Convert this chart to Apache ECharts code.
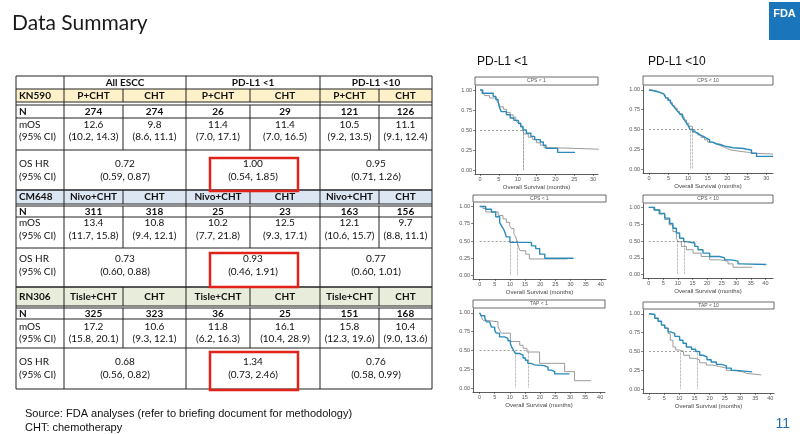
<!DOCTYPE html>
<html>
<head>
<meta charset="utf-8">
<script src="https://cdn.jsdelivr.net/npm/echarts@6/dist/echarts.min.js"></script>
<style>
  html, body { margin: 0; padding: 0; background: #fff; }
  #chart { width: 800px; height: 434px; }
</style>
</head>
<body>
<div id="chart"></div>
<script>
// ---- table values ----
const groupNames = ['All ESCC', 'PD-L1 <1', 'PD-L1 <10'];
const trialNames = ['KN590', 'CM648', 'RN306'];
const armNames = [['P+CHT', 'CHT'], ['Nivo+CHT', 'CHT'], ['Tisle+CHT', 'CHT']];
const nValues = [
  [274, 274, 26, 29, 121, 126],
  [311, 318, 25, 23, 163, 156],
  [325, 323, 36, 25, 151, 168]
];
const mosValues = [
  ['12.6', '9.8', '11.4', '11.4', '10.5', '11.1'],
  ['13.4', '10.8', '10.2', '12.5', '12.1', '9.7'],
  ['17.2', '10.6', '11.8', '16.1', '15.8', '10.4']
];
const mosCI = [
  ['(10.2, 14.3)', '(8.6, 11.1)', '(7.0, 17.1)', '(7.0, 16.5)', '(9.2, 13.5)', '(9.1, 12.4)'],
  ['(11.7, 15.8)', '(9.4, 12.1)', '(7.7, 21.8)', '(9.3, 17.1)', '(10.6, 15.7)', '(8.8, 11.1)'],
  ['(15.8, 20.1)', '(9.3, 12.1)', '(6.2, 16.3)', '(10.4, 28.9)', '(12.3, 19.6)', '(9.0, 13.6)']
];
const hrValues = [['0.72', '1.00', '0.95'], ['0.73', '0.93', '0.77'], ['0.68', '1.34', '0.76']];
const hrCI = [
  ['(0.59, 0.87)', '(0.54, 1.85)', '(0.71, 1.26)'],
  ['(0.60, 0.88)', '(0.46, 1.91)', '(0.60, 1.01)'],
  ['(0.56, 0.82)', '(0.73, 2.46)', '(0.58, 0.99)']
];

// ---- KM curves [month, survival] ----
const kn590Cps1Exp = [[0,1],[0.6,0.96],[3.5,0.92],[4.2,0.88],[4.8,0.85],[5,0.81],[5.3,0.77],[5.6,0.73],[7,0.69],[8,0.65],[9,0.62],[10.2,0.58],[10.8,0.54],[11.4,0.5],[12.3,0.46],[13.5,0.42],[14.5,0.38],[16,0.35],[16.8,0.31],[17.5,0.27],[20.6,0.22],[25.2,0.22]];
const kn590Cps1Ctl = [[0,1],[0.8,0.97],[1.2,0.93],[2.5,0.9],[4.5,0.86],[5,0.83],[5.4,0.79],[6.2,0.76],[7,0.72],[8,0.69],[8.8,0.66],[9.5,0.62],[10,0.59],[10.8,0.55],[11.4,0.48],[11.8,0.45],[12.8,0.41],[14,0.38],[15,0.34],[16,0.31],[17,0.28],[18.5,0.26],[31.5,0.26]];
const kn590Cps10Exp = [[0,1],[0.5,0.99],[1.2,0.98],[2,0.97],[2.8,0.96],[3.3,0.95],[3.8,0.93],[4.3,0.9],[4.9,0.87],[5.5,0.84],[6,0.81],[6.5,0.78],[7,0.75],[7.5,0.72],[8,0.69],[8.6,0.65],[9.1,0.62],[9.6,0.58],[10,0.55],[10.5,0.5],[11.2,0.47],[11.8,0.45],[12.5,0.43],[13.2,0.41],[14,0.39],[14.7,0.37],[15.5,0.34],[16.3,0.32],[17.2,0.31],[18.2,0.29],[19.4,0.27],[21.5,0.26],[24.2,0.25],[25,0.24],[26.2,0.2],[27.5,0.16],[31.7,0.16]];
const kn590Cps10Ctl = [[0,1],[0.6,0.99],[1.5,0.98],[2.3,0.96],[3,0.95],[3.6,0.93],[4.2,0.9],[4.8,0.87],[5.4,0.84],[6,0.8],[6.6,0.77],[7.2,0.73],[7.8,0.7],[8.4,0.66],[9,0.62],[9.6,0.58],[10.2,0.54],[11.1,0.49],[11.8,0.46],[12.5,0.43],[13.3,0.4],[14.2,0.37],[15,0.34],[16,0.32],[17,0.3],[18,0.28],[19,0.26],[20,0.24],[21,0.23],[22.5,0.22],[24,0.21],[25.5,0.2],[26.5,0.19],[31.7,0.19]];
const cm648Cps1Exp = [[0,1],[2,0.96],[3.9,0.92],[5.3,0.85],[6.6,0.77],[7.2,0.72],[7.8,0.68],[8.3,0.63],[8.8,0.56],[10,0.48],[17.1,0.43],[18.5,0.39],[19.8,0.31],[21.5,0.25],[31,0.25]];
const cm648Cps1Ctl = [[0,1],[1.1,0.97],[2,0.92],[6.1,0.87],[7.7,0.82],[8.8,0.77],[9.9,0.72],[10.5,0.68],[11.3,0.6],[11.9,0.56],[12.4,0.48],[12.9,0.41],[13.3,0.36],[15.2,0.31],[16.4,0.24],[29,0.24]];
const cm648Cps10Exp = [[0,1],[2,0.96],[3.8,0.91],[5.5,0.84],[7.2,0.76],[8.3,0.69],[9.5,0.62],[10.6,0.54],[12,0.49],[12.9,0.47],[15.8,0.42],[16.9,0.37],[18.6,0.32],[20.9,0.27],[24.3,0.25],[26,0.22],[28.3,0.2],[30.6,0.16],[31.8,0.15],[40.3,0.15]];
const cm648Cps10Ctl = [[0,1],[1.7,0.96],[3.5,0.9],[5.5,0.82],[7,0.74],[8.3,0.64],[9.5,0.54],[10.1,0.49],[11.2,0.42],[12.9,0.37],[15.2,0.32],[18,0.27],[20.9,0.22],[24.3,0.2],[27.2,0.16],[28.9,0.11],[35.5,0.11]];
const rn306Tap1Exp = [[0,1],[0.2,0.98],[0.6,0.96],[1.7,0.93],[2.2,0.88],[3.3,0.86],[3.9,0.81],[5,0.77],[5.5,0.73],[6.6,0.68],[8.3,0.66],[9.4,0.63],[10.2,0.59],[10.7,0.54],[11.3,0.5],[11.9,0.46],[13.3,0.44],[14.4,0.4],[15.2,0.37],[16,0.33],[17.1,0.31],[18.2,0.3],[21.5,0.28],[22.7,0.24],[23.8,0.22],[24.9,0.19],[29.8,0.19]];
const rn306Tap1Ctl = [[0,1],[0.5,0.95],[1.1,0.9],[2.2,0.88],[6.1,0.82],[6.6,0.77],[7.2,0.73],[10.2,0.62],[13.3,0.57],[14.4,0.53],[15.7,0.48],[19.9,0.33],[28.2,0.22],[31.5,0.1],[37,0.1]];
const rn306Tap10Exp = [[0,1],[0.4,0.99],[1.9,0.94],[3,0.9],[4.1,0.85],[5.2,0.81],[6.3,0.76],[7.1,0.74],[8.5,0.7],[10.1,0.65],[11.2,0.61],[12.3,0.56],[14,0.53],[15.4,0.5],[16.7,0.45],[17.8,0.43],[19.1,0.39],[20.5,0.36],[22.2,0.33],[23.8,0.31],[25.5,0.28],[27.1,0.25],[28.8,0.23],[34,0.23]];
const rn306Tap10Ctl = [[0,1],[0.4,0.99],[1.9,0.94],[3,0.9],[4.1,0.85],[5.2,0.81],[6.3,0.74],[7,0.65],[7.9,0.56],[8.8,0.52],[10.1,0.5],[11.4,0.45],[13.4,0.41],[15.1,0.39],[16.7,0.35],[18.9,0.32],[21.1,0.3],[23.3,0.28],[25.5,0.25],[27.7,0.24],[29.3,0.23],[31,0.21],[32.1,0.19],[37,0.19]];

const stripLabels = ['CPS < 1', 'CPS < 10', 'CPS < 1', 'CPS < 10', 'TAP < 1', 'TAP < 10'];
const expMedians = [11.4, 10.5, 10.2, 12.1, 11.8, 15.8];
const ctlMedians = [11.4, 11.1, 12.5, 9.7, 16.1, 10.4];
const medianLineEnd = [11.4, 13.8, 12.5, 16.6, 16.1, 15.8];
const xTicks30 = [0, 5, 10, 15, 20, 25, 30];
const xTicks40 = [0, 5, 10, 15, 20, 25, 30, 35, 40];
const yTicks = [0, 0.25, 0.5, 0.75, 1];

const expCurves = [kn590Cps1Exp, kn590Cps10Exp, cm648Cps1Exp, cm648Cps10Exp, rn306Tap1Exp, rn306Tap10Exp];
const ctlCurves = [kn590Cps1Ctl, kn590Cps10Ctl, cm648Cps1Ctl, cm648Cps10Ctl, rn306Tap1Ctl, rn306Tap10Ctl];

// panel layout (px) and axis ranges
const panels = [
  { left: 475, right: 598, top: 86, bottom: 174, stripTop: 77, xmin: -1.33, xmax: 31.3, ticks: xTicks30 },
  { left: 643, right: 773, top: 86, bottom: 173, stripTop: 76, xmin: -1.53, xmax: 31.7, ticks: xTicks30 },
  { left: 473, right: 606, top: 203, bottom: 279, stripTop: 195, xmin: -2.2, xmax: 41.7, ticks: xTicks40 },
  { left: 643, right: 773, top: 204, bottom: 278, stripTop: 195, xmin: -1.95, xmax: 42.6, ticks: xTicks40 },
  { left: 473, right: 605, top: 309, bottom: 392, stripTop: 300, xmin: -2.2, xmax: 41.6, ticks: xTicks40 },
  { left: 643, right: 774, top: 310, bottom: 393, stripTop: 302, xmin: -1.98, xmax: 41.2, ticks: xTicks40 }
];

const BLUE = '#2a8bbb';
const GREY = '#9b9b9b';
const AXIS = '#333';
const FONT = 'Lato';

const grids = [], xAxes = [], yAxes = [], series = [], graphics = [];

panels.forEach(function (p, i) {
  grids.push({ left: p.left, top: p.top, width: p.right - p.left, height: p.bottom - p.top });
  xAxes.push({
    type: 'value', gridIndex: i, min: p.xmin, max: p.xmax,
    axisLine: { onZero: false, lineStyle: { color: AXIS, width: 0.8 } },
    axisTick: { customValues: p.ticks, length: 2, lineStyle: { color: AXIS, width: 0.6 } },
    axisLabel: { customValues: p.ticks, fontSize: 5.5, color: '#555', margin: 2 },
    splitLine: { show: false },
    name: 'Overall Survival (months)', nameLocation: 'middle', nameGap: 10,
    nameTextStyle: { fontSize: 6, color: '#444' }
  });
  yAxes.push({
    type: 'value', gridIndex: i, min: -0.05, max: 1.05,
    axisLine: { show: true, onZero: false, lineStyle: { color: AXIS, width: 0.8 } },
    axisTick: { show: true, customValues: yTicks, length: 2, lineStyle: { color: AXIS, width: 0.6 } },
    axisLabel: { customValues: yTicks, fontSize: 5.5, color: '#555', margin: 3,
      formatter: function (v) { return v.toFixed(2); } },
    splitLine: { show: false }
  });
  series.push({
    type: 'line', xAxisIndex: i, yAxisIndex: i, data: ctlCurves[i], step: 'end',
    symbol: 'none', lineStyle: { color: GREY, width: 1 }, z: 2, silent: true,
    markLine: {
      silent: true, symbol: ['none', 'none'], label: { show: false }, animation: false,
      lineStyle: { color: '#777', width: 0.7, type: [2, 2] },
      data: [
        [{ coord: [0, 0.5] }, { coord: [medianLineEnd[i], 0.5] }],
        [{ coord: [expMedians[i], 0.5], lineStyle: { type: 'dotted' } }, { coord: [expMedians[i], 0] }],
        [{ coord: [ctlMedians[i], 0.5], lineStyle: { type: 'dotted' } }, { coord: [ctlMedians[i], 0] }]
      ]
    }
  });
  series.push({
    type: 'line', xAxisIndex: i, yAxisIndex: i, data: expCurves[i], step: 'end',
    symbol: 'none', lineStyle: { color: BLUE, width: 1.4 }, z: 3, silent: true
  });
  // facet strip
  graphics.push({
    type: 'rect', shape: { x: p.left, y: p.stripTop, width: p.right - p.left, height: p.top - 1 - p.stripTop },
    style: { fill: '#fff', stroke: '#444', lineWidth: 0.8 }
  });
  graphics.push({
    type: 'text', x: (p.left + p.right) / 2, y: (p.stripTop + p.top - 1) / 2,
    style: { text: stripLabels[i], font: '5px Liberation Sans', fill: '#555',
      align: 'center', verticalAlign: 'middle', textAlign: 'center', textVerticalAlign: 'middle' }
  });
});

// ---- table drawing ----
const colX = [16, 64, 123, 186, 250, 320, 379, 432];
const blocks = [
  { label: [89, 102], n: [105, 118], mos: [118, 150], hr: [150, 190], fill: '#fdf1c9', mosY: [125, 137], hrY: [164, 177], box: [158, 191] },
  { label: [190, 204], n: [206, 217], mos: [217, 248], hr: [248, 287], fill: '#dce6f2', mosY: [223, 236], hrY: [259, 272], box: [253, 287] },
  { label: [287, 306], n: [308, 319], mos: [319, 348], hr: [348, 389], fill: '#e8eddb', mosY: [327, 339], hrY: [362, 375], box: [352, 390] }
];

function txt(x, y, s, bold, align) {
  return {
    type: 'text', x: x, y: y, z: 10,
    style: { text: s, font: (bold ? 'bold ' : '') + '10px ' + FONT, fill: '#111',
      align: align || 'center', verticalAlign: 'middle', textAlign: align || 'center', textVerticalAlign: 'middle' }
  };
}
function hline(y, w) {
  return { type: 'line', z: 9, shape: { x1: colX[0], y1: y, x2: colX[7], y2: y }, style: { stroke: '#222', lineWidth: w || 1 } };
}
function vline(x, y1, y2) {
  return { type: 'line', z: 9, shape: { x1: x, y1: y1, x2: x, y2: y2 }, style: { stroke: '#222', lineWidth: 1 } };
}
const groupEdges = [0, 1, 3, 5, 7];

// header row
graphics.push(hline(76));
groupEdges.forEach(function (c) { graphics.push(vline(colX[c], 76, 89)); });
groupNames.forEach(function (g, k) {
  graphics.push(txt((colX[1 + 2 * k] + colX[3 + 2 * k]) / 2, 83, g, true));
});

blocks.forEach(function (b, t) {
  graphics.push({ type: 'rect', z: 8, shape: { x: colX[0], y: b.label[0], width: colX[7] - colX[0], height: b.label[1] - b.label[0] },
    style: { fill: b.fill } });
  graphics.push(hline(b.label[0]));
  graphics.push(hline(b.label[1]));
  graphics.push(hline(b.n[0]));
  graphics.push(hline(b.mos[0]));
  graphics.push(hline(b.hr[0]));
  graphics.push(hline(b.hr[1], 1.2));
  colX.forEach(function (x) { graphics.push(vline(x, b.label[0], b.label[1])); });
  colX.forEach(function (x) { graphics.push(vline(x, b.n[0], b.mos[1])); });
  groupEdges.forEach(function (c) { graphics.push(vline(colX[c], b.label[1], b.n[0])); });
  groupEdges.forEach(function (c) { graphics.push(vline(colX[c], b.hr[0], b.hr[1])); });

  const ly = (b.label[0] + b.label[1]) / 2;
  graphics.push(txt(colX[0] + 3, ly, trialNames[t], true, 'left'));
  for (let c = 0; c < 6; c++) {
    const cx = (colX[c + 1] + colX[c + 2]) / 2;
    graphics.push(txt(cx, ly, armNames[t][c % 2], true));
    graphics.push(txt(cx, (b.n[0] + b.n[1]) / 2, String(nValues[t][c]), true));
    graphics.push(txt(cx, b.mosY[0], mosValues[t][c], false));
    graphics.push(txt(cx, b.mosY[1], mosCI[t][c], false));
  }
  graphics.push(txt(colX[0] + 3, (b.n[0] + b.n[1]) / 2, 'N', true, 'left'));
  graphics.push(txt(colX[0] + 3, b.mosY[0], 'mOS', false, 'left'));
  graphics.push(txt(colX[0] + 3, b.mosY[1], '(95% CI)', false, 'left'));
  graphics.push(txt(colX[0] + 3, b.hrY[0], 'OS HR', false, 'left'));
  graphics.push(txt(colX[0] + 3, b.hrY[1], '(95% CI)', false, 'left'));
  for (let k = 0; k < 3; k++) {
    const gx = (colX[1 + 2 * k] + colX[3 + 2 * k]) / 2;
    graphics.push(txt(gx, b.hrY[0], hrValues[t][k], false));
    graphics.push(txt(gx, b.hrY[1], hrCI[t][k], false));
  }
  // red highlight around PD-L1 <1 HR
  graphics.push({ type: 'rect', z: 11, shape: { x: 210, y: b.box[0], width: 88, height: b.box[1] - b.box[0] },
    style: { fill: 'none', stroke: '#e2231a', lineWidth: 2.5 } });
});

// titles, labels, footer
graphics.push({ type: 'text', x: 12, y: 23, style: { text: 'Data Summary', font: '21px ' + FONT, fill: '#1a1a1a',
  align: 'left', verticalAlign: 'middle', textAlign: 'left', textVerticalAlign: 'middle' } });
graphics.push({ type: 'text', x: 477, y: 62, style: { text: 'PD-L1 <1', font: '12px Liberation Sans', fill: '#111',
  align: 'left', verticalAlign: 'middle', textAlign: 'left', textVerticalAlign: 'middle' } });
graphics.push({ type: 'text', x: 648, y: 62, style: { text: 'PD-L1 <10', font: '12px Liberation Sans', fill: '#111',
  align: 'left', verticalAlign: 'middle', textAlign: 'left', textVerticalAlign: 'middle' } });
graphics.push({ type: 'text', x: 25, y: 414, style: { text: 'Source: FDA analyses (refer to briefing document for methodology)',
  font: '11px Liberation Sans', fill: '#111', align: 'left', verticalAlign: 'middle', textAlign: 'left', textVerticalAlign: 'middle' } });
graphics.push({ type: 'text', x: 25, y: 428, style: { text: 'CHT: chemotherapy',
  font: '11px Liberation Sans', fill: '#111', align: 'left', verticalAlign: 'middle', textAlign: 'left', textVerticalAlign: 'middle' } });
graphics.push({ type: 'text', x: 790, y: 424, style: { text: '11', font: '14px Liberation Sans', fill: '#1f6fb5',
  align: 'right', verticalAlign: 'middle', textAlign: 'right', textVerticalAlign: 'middle' } });
graphics.push({ type: 'rect', shape: { x: 769, y: 2, width: 31, height: 38 }, style: { fill: '#1a75bb' } });
graphics.push({ type: 'text', x: 784.5, y: 14, style: { text: 'FDA', font: 'bold 11px Liberation Sans', fill: '#fff',
  align: 'center', verticalAlign: 'middle', textAlign: 'center', textVerticalAlign: 'middle' } });

const chart = echarts.init(document.getElementById('chart'), null, { renderer: 'canvas' });
chart.setOption({
  animation: false,
  backgroundColor: '#fff',
  grid: grids,
  xAxis: xAxes,
  yAxis: yAxes,
  series: series,
  graphic: { elements: graphics }
});
</script>
</body>
</html>
